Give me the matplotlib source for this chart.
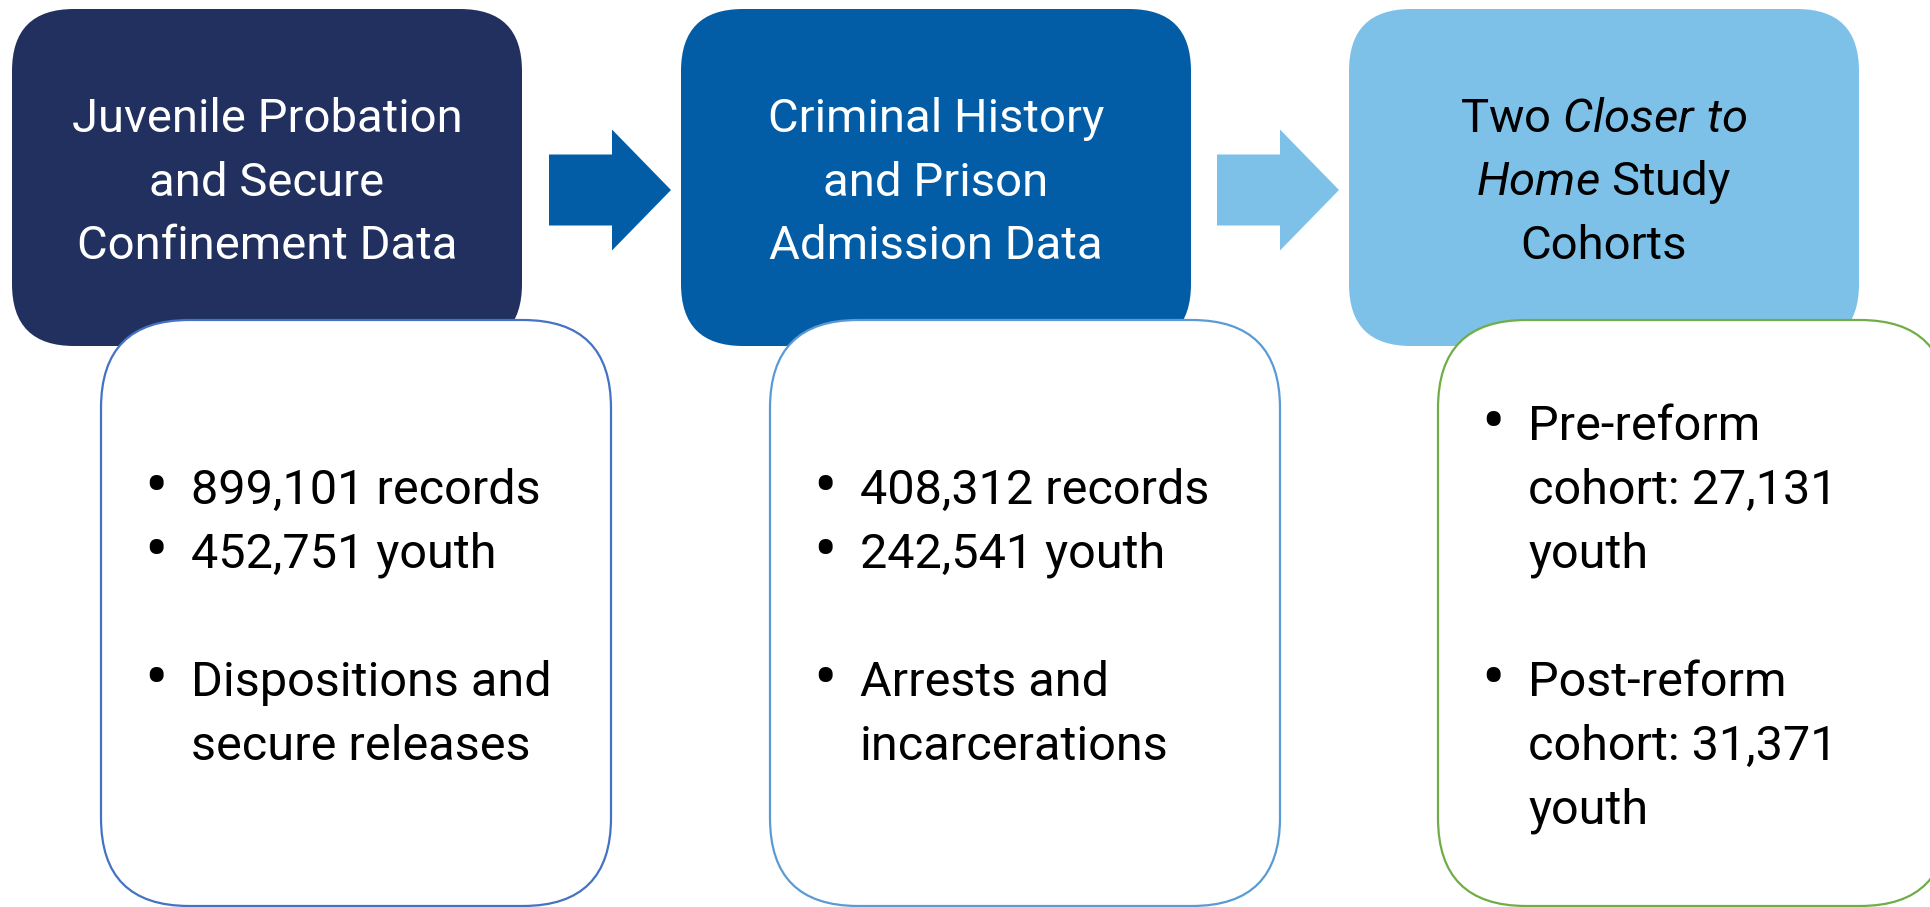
import matplotlib
matplotlib.use("Agg")
import matplotlib.pyplot as plt
from matplotlib.patches import FancyBboxPatch, FancyArrow

plt.rcParams['font.family'] = ['Roboto', 'DejaVu Sans']
plt.rcParams['mathtext.fontset'] = 'custom'
plt.rcParams['mathtext.rm'] = 'Roboto'
plt.rcParams['mathtext.it'] = 'Roboto:italic'

# header boxes
header_lines = [
    ["Juvenile Probation", "and Secure", "Confinement Data"],
    ["Criminal History", "and Prison", "Admission Data"],
    ["Two $\\mathit{Closer\\ to}$", "$\\mathit{Home}$ Study", "Cohorts"],
]
header_colors = ["#21305E", "#035DA6", "#7DC1E9"]
header_text_colors = ["white", "white", "black"]

# detail boxes (None = blank line)
detail_lines = [
    [("899,101 records", True), ("452,751 youth", True), None,
     ("Dispositions and", True), ("secure releases", False)],
    [("408,312 records", True), ("242,541 youth", True), None,
     ("Arrests and", True), ("incarcerations", False)],
    [("Pre-reform", True), ("cohort: 27,131", False), ("youth", False), None,
     ("Post-reform", True), ("cohort: 31,371", False), ("youth", False)],
]
detail_edges = ["#4472C4", "#5B9BD5", "#70AD47"]
detail_top = [491, 491, 427]

fig = plt.figure(figsize=(19.31, 9.07), dpi=100)
ax = fig.add_axes([0, 0, 1, 1])
ax.set_xlim(0, 1931)
ax.set_ylim(907, 0)
ax.axis('off')

box_left = [12, 681, 1349]
box_w = 510
line_step = 64

for i in range(3):
    x0 = box_left[i]
    # header box
    ax.add_patch(FancyBboxPatch((x0, 9), box_w, 337,
                                boxstyle="round,pad=0,rounding_size=62",
                                fc=header_colors[i], ec='none', zorder=1))
    cx = x0 + box_w / 2
    for j, s in enumerate(header_lines[i]):
        ax.text(cx, 119 + j * 63.5, s, ha='center', va='center',
                fontsize=34, color=header_text_colors[i], zorder=3)

    # detail box
    bx = x0 + 89
    ax.add_patch(FancyBboxPatch((bx, 320), box_w, 586,
                                boxstyle="round,pad=0,rounding_size=88",
                                fc='white', ec=detail_edges[i], lw=1.6, zorder=2))
    y = detail_top[i]
    for item in detail_lines[i]:
        if item is not None:
            s, bullet = item
            if bullet:
                ax.text(bx + 55, y - 2, "\u2022", ha='center', va='center',
                        fontsize=50, color='black', zorder=3)
            ax.text(bx + 90, y, s, ha='left', va='center',
                    fontsize=35, color='black', zorder=3)
        y += line_step

# arrows between header boxes
arrow_colors = ["#035DA6", "#7DC1E9"]
arrow_x = [549, 1217]
for i in range(2):
    ax.add_patch(FancyArrow(arrow_x[i], 190, 122, 0, width=71, head_width=121,
                            head_length=59, length_includes_head=True,
                            fc=arrow_colors[i], ec='none', zorder=1))

fig.savefig("out.png", dpi=100)
